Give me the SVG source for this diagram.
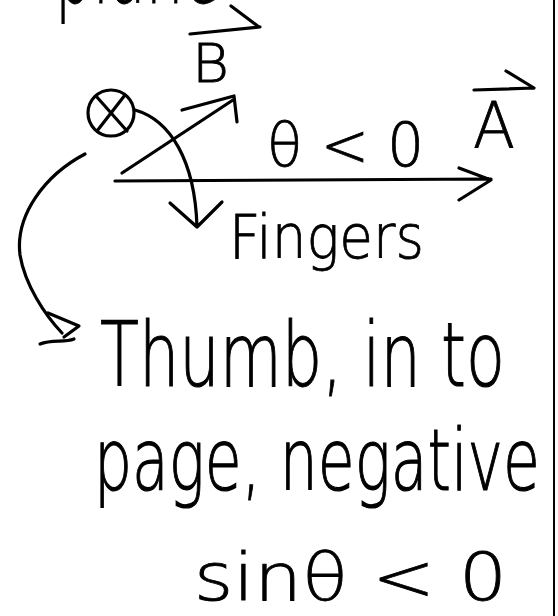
<svg xmlns="http://www.w3.org/2000/svg" width="558" height="616" viewBox="0 0 558 616">
<style>
.ink{fill:none;stroke:#000;stroke-width:3.2;stroke-linecap:round;stroke-linejoin:round}
.hw{font-family:"DejaVu Sans","Liberation Sans",sans-serif;font-weight:200;fill:#000;stroke:#000;stroke-width:0.8}
</style>
<rect width="558" height="616" fill="#fff"/>
<line x1="554" y1="0" x2="554" y2="616" stroke="#000" stroke-width="2"/>
<g id="top-word"><text class="hw" x="55" y="3" font-size="100" textLength="165" lengthAdjust="spacingAndGlyphs">plane</text></g>
<g id="label-B">
<text class="hw" x="192" y="82" font-size="54" textLength="37" lengthAdjust="spacingAndGlyphs">B</text>
</g>
<g id="label-A">
<text class="hw" x="473" y="148" font-size="64" textLength="42" lengthAdjust="spacingAndGlyphs">A</text>
</g>
<g id="into-page"><circle class="ink" cx="111" cy="113" r="23"/><path class="ink" d="M96,96 L127,131 M125,95 L97,131"/></g>
<g id="angle-label"><text class="hw" x="267" y="166" font-size="60" textLength="157" lengthAdjust="spacingAndGlyphs">θ &lt; 0</text></g>
<g id="fingers-label"><text class="hw" x="229" y="258" font-size="60" textLength="195" lengthAdjust="spacingAndGlyphs">Fingers</text></g>
<g id="thumb-label">
<text class="hw" transform="translate(100,386) scale(1,1.4)" x="0" y="0" font-size="64" textLength="405" lengthAdjust="spacingAndGlyphs">Thumb, in to</text>
<text class="hw" transform="translate(94,490) scale(1,1.45)" x="0" y="0" font-size="59" textLength="446" lengthAdjust="spacingAndGlyphs">page, negative</text>
<text class="hw" x="194" y="600" font-size="66" textLength="313" lengthAdjust="spacingAndGlyphs">sinθ &lt; 0</text>
</g>
<g id="connectors">
<path class="ink" d="M190,34 L260,27 M231,6 L259,27"/>
<path class="ink" d="M474,90 L534,88 M506,71 L534,88"/>
<path class="ink" d="M122,173 L233,100 M182,110 L234,96 L237,122"/>
<path class="ink" d="M115,181 L491,179 M459,168 L491,180 L459,200"/>
<path class="ink" d="M135,110 C170,120 195,160 197,227 M170,203 L197,227 L222,202"/>
<path class="ink" d="M85,154 C45,175 15,215 20,255 C25,285 45,315 62,333"/>
<path class="ink" d="M48,313 L79,326 L64,337 M40,344 C52,339 64,343 74,339"/>
</g>
</svg>
